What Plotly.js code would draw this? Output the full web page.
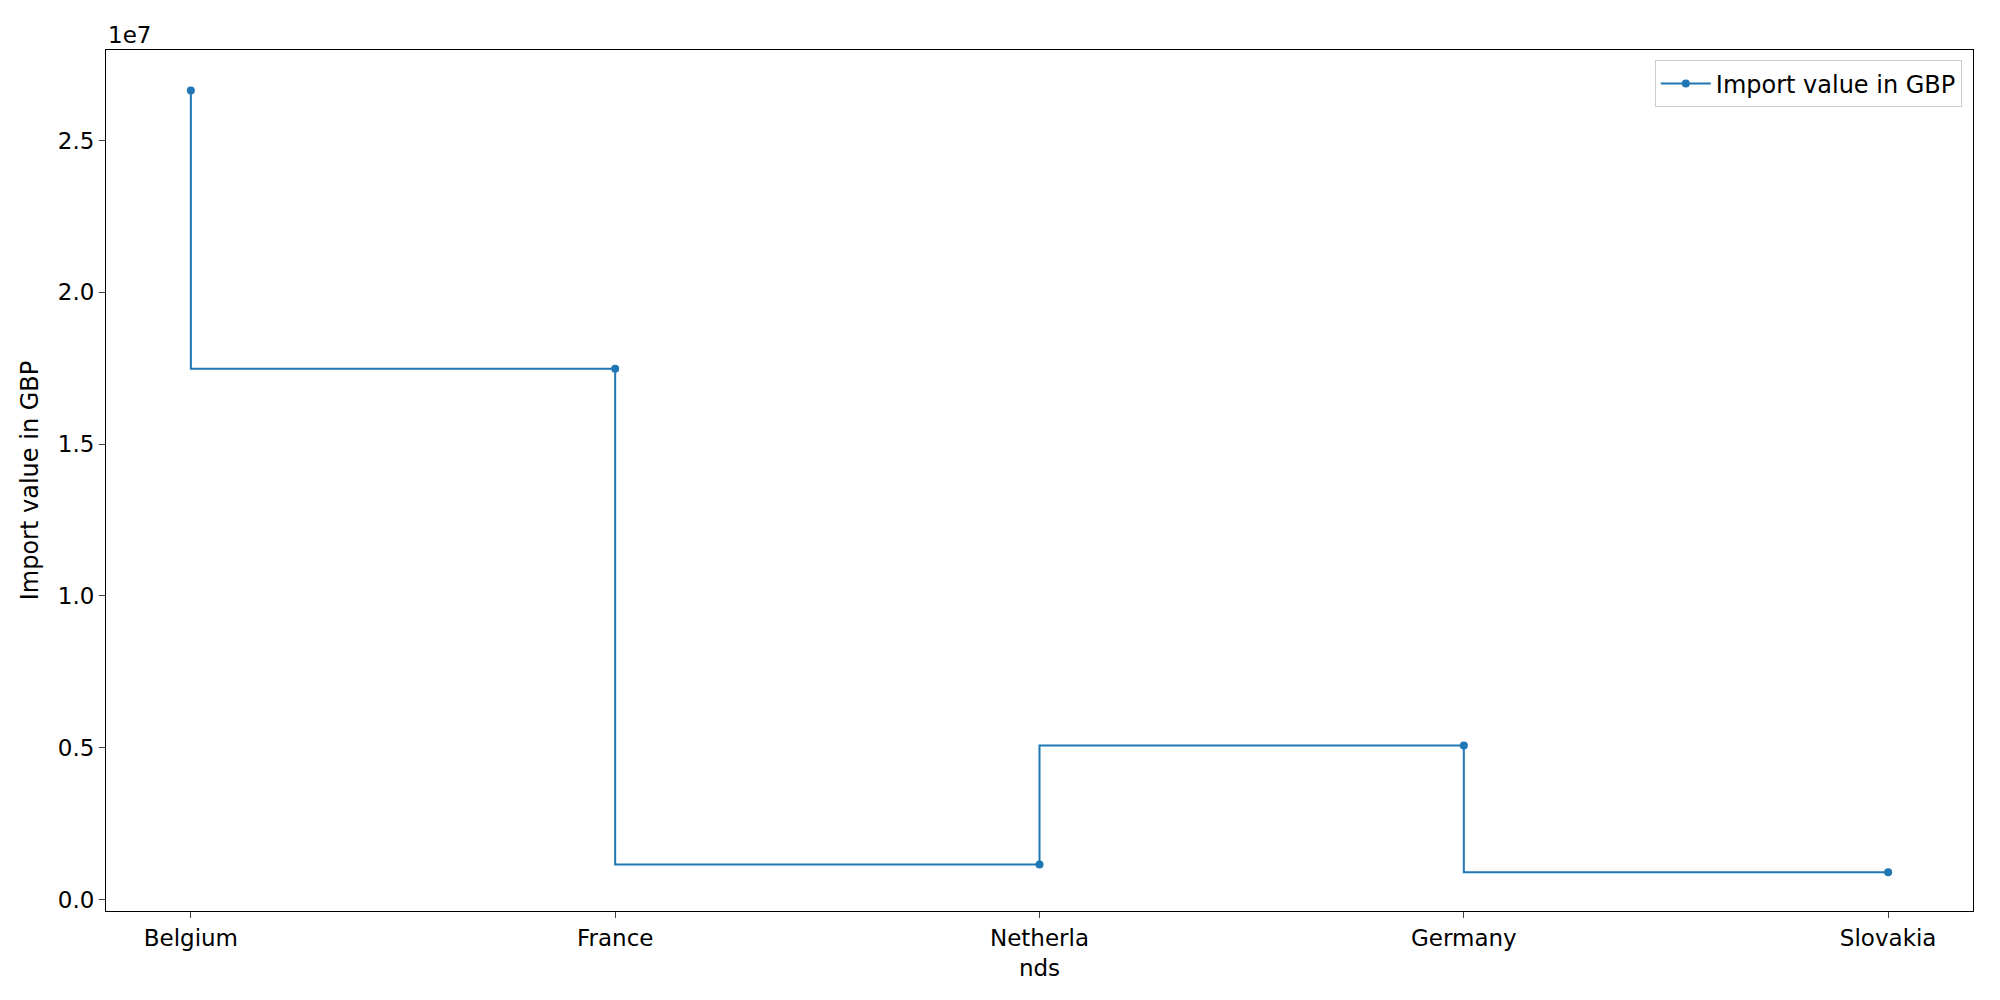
<!DOCTYPE html>
<html>
<head>
<meta charset="utf-8">
<script src="https://cdn.plot.ly/plotly-3.0.1.min.js"></script>
<style>body{margin:0;background:#fff}#plot{width:2000px;height:1000px}</style>
</head>
<body>
<div id="plot"></div>
<script>
var countries = ['Belgium', 'France', 'Netherlands', 'Germany', 'Slovakia'];
var countryLabels = ['Belgium', 'France', 'Netherla<br>nds', 'Germany', 'Slovakia'];
var importValues = [26650000, 17480000, 1150000, 5070000, 900000];
var yTickVals = [0, 5e6, 10e6, 15e6, 20e6, 25e6];
var yTickText = ['0.0', '0.5', '1.0', '1.5', '2.0', '2.5'];

var xIdx = countries.map((_, i) => i);

var data = [{
    x: xIdx, y: importValues, mode: 'lines+markers', name: 'Import value in GBP',
    line: {shape: 'vh', color: '#1f77b4', width: 2},
    marker: {size: 8, color: '#1f77b4'}
}];

var layout = {
    width: 2000, height: 1000,
    paper_bgcolor: '#fff', plot_bgcolor: '#fff',
    font: {family: 'DejaVu Sans', size: 23, color: '#000'},
    margin: {l: 106, r: 27, t: 50, b: 89},
    showlegend: true,
    legend: {x: 0.994, y: 0.988, xanchor: 'right', yanchor: 'top',
             bordercolor: '#ccc', borderwidth: 1, font: {size: 24},
             itemwidth: 50},
    xaxis: {range: [-0.2, 4.2], tickvals: xIdx, ticktext: countryLabels,
            showgrid: false, zeroline: false, showline: true, mirror: true,
            linecolor: '#000', linewidth: 1, ticks: 'outside', ticklen: 6},
    yaxis: {range: [-378000, 27980000], tickvals: yTickVals, ticktext: yTickText,
            title: {text: 'Import value in GBP', font: {size: 24}, standoff: 12},
            showgrid: false, zeroline: false, showline: true, mirror: true,
            linecolor: '#000', linewidth: 1, ticks: 'outside', ticklen: 6},
    annotations: [{text: '1e7', xref: 'paper', yref: 'paper', x: 0, y: 1,
                   xanchor: 'left', yanchor: 'bottom', showarrow: false,
                   font: {size: 23}}]
};

Plotly.newPlot('plot', data, layout, {displayModeBar: false});
</script>
</body>
</html>
